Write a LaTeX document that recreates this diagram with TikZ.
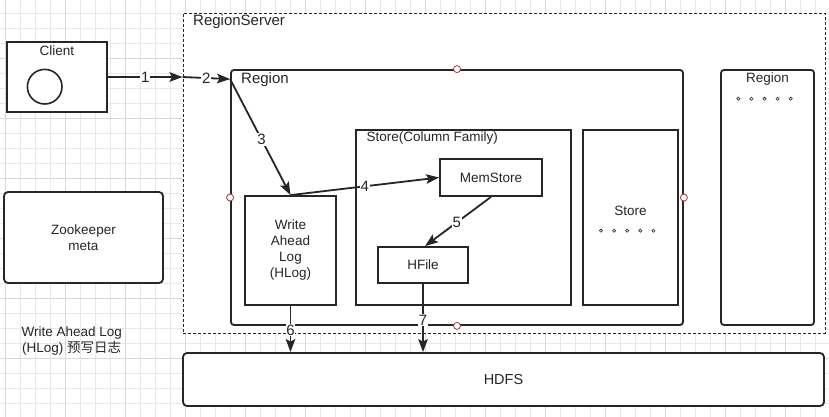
\documentclass[tikz,border=0pt]{standalone}
\usepackage{fontspec}
\setmainfont{Liberation Sans}
\newfontfamily\cjk{Noto Sans CJK SC}
\usetikzlibrary{arrows.meta,calc}
\definecolor{ink}{HTML}{262626}
\definecolor{txt}{HTML}{262626}
\definecolor{gridminor}{HTML}{E8E8E8}
\definecolor{gridmajor}{HTML}{D9D9D9}
\definecolor{handle}{HTML}{A33A3A}
\begin{document}
\begin{tikzpicture}[x=1pt,y=-1pt,
  every node/.style={text=txt},
  box/.style={draw=ink, line width=1.8pt, fill=white, inner sep=0pt, rectangle, font=\fontsize{13.5}{16}\selectfont, align=center},
  rbox/.style={box, rounded corners=3pt},
  dashbox/.style={draw=ink, line width=0.9pt, dash pattern=on 3pt off 2pt, fill=white, rectangle, inner sep=0pt},
  lbl/.style={inner sep=0pt, font=\fontsize{13.5}{16}\selectfont, align=center},
  biglbl/.style={inner sep=0pt, font=\fontsize{15}{18}\selectfont, anchor=west},
  num/.style={fill=white, inner sep=0.8pt, font=\fontsize{15}{17}\selectfont, text=ink},
  flow/.style={draw=ink, line width=1.8pt, -{Stealth[length=13pt,width=9.5pt,inset=2.5pt]}},
  handlept/.style={draw=handle, fill=white, line width=0.8pt},
  smalldot/.style={draw=txt, line width=0.6pt},
  gridline/.style={draw=gridminor, line width=0.7pt},
  gridbold/.style={draw=gridmajor, line width=0.8pt}]
\useasboundingbox (0,0) rectangle (829,417);
\fill[white] (0,0) rectangle (829,417);
% background grid
\foreach \i in {0,...,54} \draw[gridline] ({5+15*\i},0) -- ({5+15*\i},417);
\foreach \j in {-1,...,27} \draw[gridline] (0,{13.3+15*\j}) -- (829,{13.3+15*\j});
\foreach \i in {0,...,13} \draw[gridbold] ({5+60*\i},0) -- ({5+60*\i},417);
\foreach \j in {0,...,7} \draw[gridbold] (0,{-1.7+60*\j}) -- (829,{-1.7+60*\j});

% boxes
\node[box, minimum width=100pt, minimum height=70pt] (client) at (57,77) {};
\node[lbl] (clientlbl) at (57,50.7) {Client};
\draw[line width=1.6pt, draw=ink] (44.7,86.7) circle (17.3pt);

\node[dashbox, minimum width=642pt, minimum height=320pt] (rs) at (504,173) {};
\node[biglbl] (rslbl) at (193,22) {RegionServer};

\node[rbox, minimum width=452pt, minimum height=255pt] (region) at (457,197.5) {};
\node[biglbl] (regionlbl) at (241,80) {Region};

\node[rbox, minimum width=93pt, minimum height=255pt] (region2) at (767.5,197.5) {};
\node[lbl] (region2lbl) at (767.5,78.7) {Region};
\foreach \k in {0,...,4} \draw[smalldot] ({738.3+13.1*\k},98.7) circle (1.6pt);

\node[box, minimum width=215pt, minimum height=175pt] (scf) at (463.5,217.5) {};
\node[lbl, anchor=west] (scflbl) at (366.5,138.3) {Store(Column Family)};

\node[box, minimum width=95pt, minimum height=175pt] (store) at (630.5,217.5) {};
\node[lbl] (storelbl) at (630.5,210.7) {Store};
\foreach \k in {0,...,4} \draw[smalldot] ({601+13.1*\k},230.7) circle (1.6pt);

\node[box, minimum width=102pt, minimum height=37pt] (mem) at (491,177.5) {MemStore};
\node[box, minimum width=90pt, minimum height=36pt] (hfile) at (423,265) {HFile};
\node[box, minimum width=91pt, minimum height=109pt] (wal) at (290.5,250.5) {Write\\Ahead\\Log\\(HLog)};

\node[rbox, minimum width=159pt, minimum height=91pt, rounded corners=4pt] (zk) at (83.5,237.5) {Zookeeper\\meta};
\node[rbox, minimum width=641pt, minimum height=53pt, rounded corners=4pt, font=\fontsize{14.5}{17}\selectfont] (hdfs) at (503.5,379.5) {HDFS};

\node[lbl] (note) at (71.7,341.5) {Write Ahead Log\\(HLog) {\cjk 预写日志}};

% connection handles
\draw[handlept] (region.north) circle (3.5pt);
\draw[handlept] (region.south) circle (3.5pt);
\draw[handlept] (region.west) circle (3.5pt);
\draw[handlept] (region.east) circle (3.5pt);

% connectors
\coordinate (rsin) at (client.east -| rs.west);
\coordinate (regin) at ($(region.north west)+(0,10)$);
\draw[flow] (client.east) -- node[num, pos=0.5] {1} (rsin);
\draw[flow] (rsin) -- node[num, pos=0.5] {2} (regin);
\draw[flow] (regin) -- node[num, pos=0.52] {3} (wal.north);
\draw[flow] (wal.north) -- node[num, pos=0.5] {4} (mem.west);
\draw[flow] (mem.south) -- node[num, pos=0.52] {5} ($(hfile.north)+(2,0)$);
\draw[flow] (wal.south) -- node[num, pos=0.53] {6} (wal.south |- hdfs.north);
\draw[flow] (hfile.south) -- node[num, pos=0.53] {7} (hfile.south |- hdfs.north);
\end{tikzpicture}
\end{document}
